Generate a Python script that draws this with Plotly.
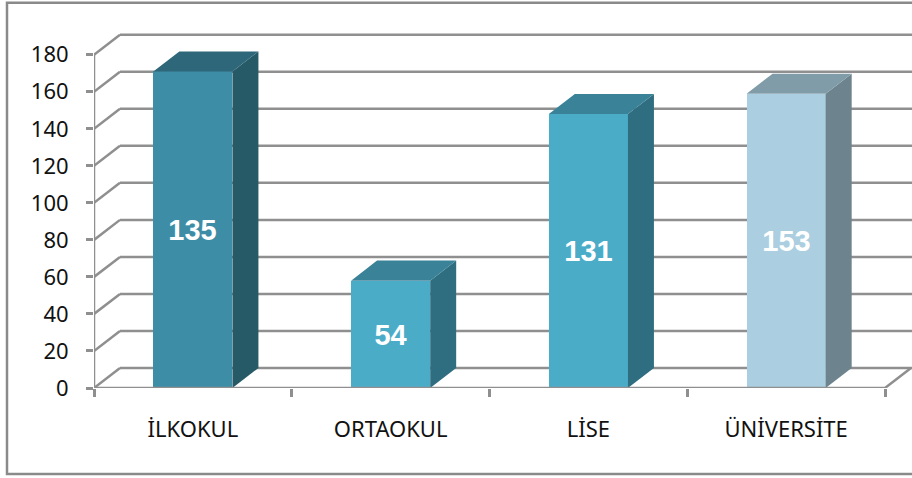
import plotly.graph_objects as go

# ---- data ----
categories = ["İLKOKUL", "ORTAOKUL", "LİSE", "ÜNİVERSİTE"]
bar_heights = [171, 58, 148, 159]
bar_labels = ["135", "54", "131", "153"]
y_ticks = [0, 20, 40, 60, 80, 100, 120, 140, 160, 180]
front_colors = ["#3e8da6", "#4bacc8", "#4bacc8", "#abcfe0"]
side_colors = ["#265a67", "#2e6e80", "#2e6e80", "#6d838d"]
top_colors = ["#2e6779", "#3a8298", "#3a8298", "#809ca8"]

# ---- layout constants ----
W, H = 912, 478
PX_LEFT, PX_ZERO = 94, 388
PX_PER_CAT, PX_PER_UNIT = 197.75, 1.85
Y_TOP = 195
DX, DY = 26 / PX_PER_CAT, 20 / PX_PER_UNIT
BAR_W = 0.4
GRID = "#8f8f8f"
n = len(categories)
centers = [i + 0.5 for i in range(n)]
plot_w = W - PX_LEFT
plot_h = Y_TOP * PX_PER_UNIT
x_max = plot_w / PX_PER_CAT

fig = go.Figure()

# front faces
fig.add_trace(go.Bar(
    x=centers, y=bar_heights, width=BAR_W, marker=dict(color=front_colors, line=dict(width=0)),
    text=bar_labels, textposition="inside", insidetextanchor="middle", textangle=0,
    insidetextfont=dict(family="Liberation Sans", size=29, color="white", weight="bold"),
    hoverinfo="skip", showlegend=False,
))

# side and top faces, derived from the values
for c, v, sc, tc in zip(centers, bar_heights, side_colors, top_colors):
    l, r = c - BAR_W / 2, c + BAR_W / 2
    fig.add_trace(go.Scatter(
        x=[r, r + DX, r + DX, r, r], y=[0, DY, v + DY, v, 0], fill="toself", fillcolor=sc,
        mode="none", hoverinfo="skip", showlegend=False))
    fig.add_trace(go.Scatter(
        x=[l, l + DX, r + DX, r, l], y=[v, v + DY, v + DY, v, v], fill="toself", fillcolor=tc,
        mode="none", hoverinfo="skip", showlegend=False))

# front axis lines (left wall and floor edge)
fig.add_trace(go.Scatter(
    x=[0, 0, n, n + DX], y=[y_ticks[-1], 0, 0, DY], mode="lines",
    line=dict(color=GRID, width=2.5), cliponaxis=False, hoverinfo="skip", showlegend=False))

# wall gridlines behind the bars
shapes = []
for v in y_ticks:
    shapes.append(dict(type="line", xref="x", yref="y", layer="below", x0=0, y0=v, x1=DX, y1=v + DY,
                       line=dict(color=GRID, width=2.5)))
    shapes.append(dict(type="line", xref="x", yref="y", layer="below", x0=DX, y0=v + DY, x1=x_max, y1=v + DY,
                       line=dict(color=GRID, width=2.5)))

# chart border (right side runs out of the picture)
shapes.append(dict(type="rect", xref="paper", yref="paper", layer="below",
                   x0=(7 - PX_LEFT) / plot_w, x1=(925 - PX_LEFT) / plot_w,
                   y0=(PX_ZERO - 474) / plot_h, y1=(PX_ZERO - 3) / plot_h,
                   line=dict(color="#8a8a8a", width=2.5), fillcolor="rgba(0,0,0,0)"))

fig.update_layout(
    width=W, height=H, autosize=False, bargap=0,
    margin=dict(l=PX_LEFT, r=0, t=PX_ZERO - plot_h, b=H - PX_ZERO, pad=0),
    paper_bgcolor="white", plot_bgcolor="white", showlegend=False, shapes=shapes,
    font=dict(family="Noto Sans", color="#111111"),
    xaxis=dict(range=[0, x_max], tickmode="array", tickvals=centers, ticktext=categories,
               ticks="", showgrid=False, zeroline=False, showline=False,
               tickfont=dict(size=22), ticklabelstandoff=26,
               minor=dict(tickmode="array", tickvals=list(range(n + 1)), ticks="outside",
                          ticklen=8, tickwidth=2.5, tickcolor=GRID, showgrid=False)),
    yaxis=dict(range=[0, Y_TOP], tickmode="array", tickvals=y_ticks,
               ticks="outside", ticklen=7, tickwidth=2.5, tickcolor=GRID,
               showgrid=False, zeroline=False, showline=False,
               tickfont=dict(size=22), ticklabelstandoff=13),
)

fig.write_html(
    "out.html",
    config={"displayModeBar": False},
    post_script="document.body.style.margin='0';document.documentElement.style.overflow='hidden';window.dispatchEvent(new Event('resize'));",
)
